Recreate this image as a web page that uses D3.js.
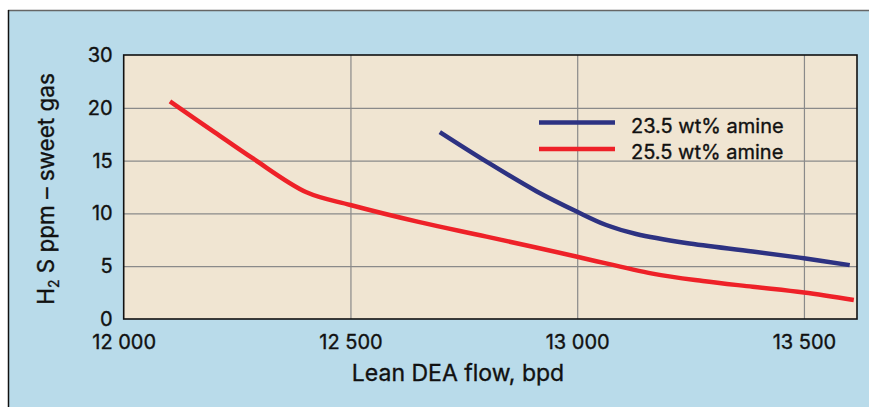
<!DOCTYPE html>
<html>
<head>
<meta charset="utf-8">
<script src="https://cdn.jsdelivr.net/npm/d3@7"></script>
<style>
  body { margin: 0; background: #fff; }
  svg text { font-family: Inter, "Liberation Sans", Arial, sans-serif; fill: #111; stroke: #111; stroke-width: 0.35px; }
</style>
</head>
<body>
<div id="chart"></div>
<script>
// data
var flow23 = [12697, 12800, 12910, 13000, 13064, 13130, 13240, 13387, 13500, 13601];
var h2s23  = [17.7, 14.9, 12.1, 10.15, 8.9, 8.05, 7.2, 6.4, 5.75, 5.1];
var flow25 = [12102, 12200, 12285, 12403, 12500, 12650, 12800, 13000, 13166, 13277, 13387, 13500, 13610];
var h2s25  = [20.6, 17.7, 15.2, 12.0, 10.8, 9.2, 7.8, 5.9, 4.3, 3.6, 3.05, 2.5, 1.8];
var xTicks = [12000, 12500, 13000, 13500];
var xTickLabels = ["12 000", "12 500", "13 000", "13 500"];
var yTicks = [0, 5, 10, 15, 20, 25];
var yTickLabels = ["0", "5", "10", "15", "20", "30"];
var seriesNames = ["23.5 wt% amine", "25.5 wt% amine"];

var width = 869, height = 407;
var plot = {left: 123.7, top: 55, right: 857, bottom: 319};
var colors = ["#2d3282", "#ee2128"];

var svg = d3.select("#chart").append("svg")
    .attr("width", width)
    .attr("height", height);

// outer panel
svg.append("rect")
    .attr("x", 8).attr("y", 10)
    .attr("width", 900).attr("height", 450)
    .attr("fill", "#b9dbea");
svg.append("line")
    .attr("x1", 8).attr("x2", 869).attr("y1", 10.5).attr("y2", 10.5)
    .style("stroke", "#666").style("stroke-width", 1.5);
svg.append("line")
    .attr("x1", 8.5).attr("x2", 8.5).attr("y1", 10).attr("y2", 407)
    .style("stroke", "#111").style("stroke-width", 1.5);

var x = d3.scaleLinear().domain([12000, 13617]).range([plot.left, plot.right]);
var y = d3.scaleLinear().domain([0, 25]).range([plot.bottom, plot.top]);

svg.append("rect")
    .attr("x", plot.left).attr("y", plot.top)
    .attr("width", plot.right - plot.left)
    .attr("height", plot.bottom - plot.top)
    .attr("fill", "#f0e5d2");

// grid
svg.append("g")
    .attr("transform", "translate(0," + plot.bottom + ")")
    .call(d3.axisBottom(x).tickValues(xTicks.slice(1)).tickSize(-(plot.bottom - plot.top)).tickFormat(""))
    .call(function(g) { g.select(".domain").remove(); })
    .selectAll("line").style("stroke", "#8a8a8a").style("stroke-width", 1.2);
svg.append("g")
    .attr("transform", "translate(" + plot.left + ",0)")
    .call(d3.axisLeft(y).tickValues(yTicks.slice(1, -1)).tickSize(-(plot.right - plot.left)).tickFormat(""))
    .call(function(g) { g.select(".domain").remove(); })
    .selectAll("line").style("stroke", "#8a8a8a").style("stroke-width", 1.2);

// plot border
svg.append("rect")
    .attr("x", plot.left).attr("y", plot.top)
    .attr("width", plot.right - plot.left)
    .attr("height", plot.bottom - plot.top)
    .attr("fill", "none")
    .style("stroke", "#111").style("stroke-width", 1.6);

// tick labels
var xAxis = svg.append("g")
    .attr("transform", "translate(0," + plot.bottom + ")")
    .call(d3.axisBottom(x).tickValues(xTicks).tickSize(0).tickPadding(16)
        .tickFormat(function(d, i) { return xTickLabels[i]; }));
xAxis.select(".domain").remove();
xAxis.selectAll("text").style("font-size", "20px").attr("fill", "#111");

var yAxis = svg.append("g")
    .attr("transform", "translate(" + (plot.left - 11) + ",0)")
    .call(d3.axisLeft(y).tickValues(yTicks).tickSize(0).tickPadding(0)
        .tickFormat(function(d, i) { return yTickLabels[i]; }));
yAxis.select(".domain").remove();
yAxis.selectAll("text").style("font-size", "20px").attr("fill", "#111");

// axis titles
svg.append("text")
    .attr("x", 458).attr("y", 381)
    .attr("text-anchor", "middle")
    .style("font-size", "23px")
    .text("Lean DEA flow, bpd");

var yt = svg.append("text")
    .attr("transform", "translate(54,189) rotate(-90)")
    .attr("text-anchor", "middle")
    .style("font-size", "22.5px");
yt.append("tspan").text("H");
yt.append("tspan").attr("dy", 5).style("font-size", "14px").text("2");
yt.append("tspan").attr("dy", -5).text(" S ppm \u2013 sweet gas");

// curves
var line = d3.line()
    .x(function(d) { return x(d[0]); })
    .y(function(d) { return y(d[1]); })
    .curve(d3.curveCatmullRom.alpha(0.5));

var series = [d3.zip(flow23, h2s23), d3.zip(flow25, h2s25)];
svg.append("g").selectAll("path")
    .data(series)
    .enter().append("path")
    .attr("d", line)
    .attr("fill", "none")
    .style("stroke", function(d, i) { return colors[i]; })
    .style("stroke-width", 4.5);

// legend
var lg = svg.append("g").selectAll("g")
    .data(seriesNames)
    .enter().append("g")
    .attr("transform", function(d, i) { return "translate(539," + (122.5 + i * 26.5) + ")"; });
lg.append("line")
    .attr("x1", 0).attr("x2", 76)
    .style("stroke", function(d, i) { return colors[i]; })
    .style("stroke-width", 4.5);
lg.append("text")
    .attr("x", 92).attr("y", 4)
    .attr("dy", "0.3em")
    .style("font-size", "20px")
    .text(function(d) { return d; });
</script>
</body>
</html>
